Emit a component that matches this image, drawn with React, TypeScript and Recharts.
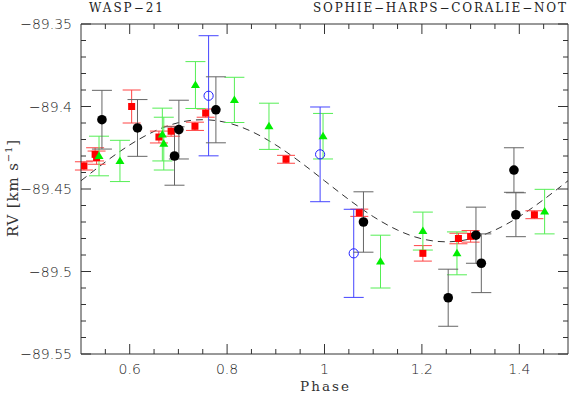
import React from "react";
import { ComposedChart, Scatter, Line, XAxis, YAxis, ErrorBar } from "recharts";

// WASP-21 radial velocities folded on phase (rv in km/s, err = 1 sigma)
const SOPHIE = [
  { phase: 0.543, rv: -89.408, err: 0.0178 },
  { phase: 0.616, rv: -89.413, err: 0.0172 },
  { phase: 0.692, rv: -89.43, err: 0.0177 },
  { phase: 0.701, rv: -89.414, err: 0.0178 },
  { phase: 0.777, rv: -89.402, err: 0.02 },
  { phase: 1.08, rv: -89.47, err: 0.0183 },
  { phase: 1.254, rv: -89.5159, err: 0.0173 },
  { phase: 1.311, rv: -89.478, err: 0.017 },
  { phase: 1.322, rv: -89.495, err: 0.0178 },
  { phase: 1.389, rv: -89.4385, err: 0.0135 },
  { phase: 1.393, rv: -89.4656, err: 0.0133 },
];

const HARPS = [
  { phase: 0.506, rv: -89.436, err: 0.0025 },
  { phase: 0.529, rv: -89.429, err: 0.004 },
  { phase: 0.532, rv: -89.431, err: 0.004 },
  { phase: 0.604, rv: -89.4, err: 0.01 },
  { phase: 0.66, rv: -89.4185, err: 0.0036 },
  { phase: 0.685, rv: -89.415, err: 0.003 },
  { phase: 0.734, rv: -89.412, err: 0.0025 },
  { phase: 0.756, rv: -89.404, err: 0.0025 },
  { phase: 0.921, rv: -89.432, err: 0.0024 },
  { phase: 1.0714, rv: -89.4644, err: 0.0022 },
  { phase: 1.202, rv: -89.489, err: 0.0047 },
  { phase: 1.275, rv: -89.48, err: 0.0032 },
  { phase: 1.3, rv: -89.4787, err: 0.0035 },
  { phase: 1.431, rv: -89.4656, err: 0.0024 },
];

const CORALIE = [
  { phase: 0.537, rv: -89.43, err: 0.012 },
  { phase: 0.58, rv: -89.433, err: 0.0125 },
  { phase: 0.667, rv: -89.417, err: 0.016 },
  { phase: 0.67, rv: -89.4225, err: 0.016 },
  { phase: 0.735, rv: -89.387, err: 0.0142 },
  { phase: 0.815, rv: -89.396, err: 0.0137 },
  { phase: 0.886, rv: -89.412, err: 0.014 },
  { phase: 0.997, rv: -89.418, err: 0.0138 },
  { phase: 1.115, rv: -89.494, err: 0.016 },
  { phase: 1.202, rv: -89.4755, err: 0.0115 },
  { phase: 1.272, rv: -89.489, err: 0.013 },
  { phase: 1.452, rv: -89.4637, err: 0.0135 },
];

const NOT = [
  { phase: 0.762, rv: -89.3935, err: 0.0364 },
  { phase: 0.991, rv: -89.429, err: 0.0287 },
  { phase: 1.06, rv: -89.489, err: 0.0267 },
];

// orbit model
const MODEL_PHASE = [0.5, 0.55, 0.6, 0.65, 0.7, 0.75, 0.8, 0.85, 0.9, 0.95, 1.0, 1.05, 1.1, 1.15, 1.2, 1.25, 1.3, 1.35, 1.4, 1.45, 1.5];
const MODEL_RV = [
  -89.445, -89.4336, -89.4233, -89.4151, -89.4098, -89.408, -89.4098, -89.4151, -89.4233, -89.4336, -89.445,
  -89.4564, -89.4667, -89.4749, -89.4802, -89.482, -89.4802, -89.4749, -89.4667, -89.4564, -89.445,
];
const MODEL = MODEL_PHASE.map((phase, i) => ({ phase, rv: MODEL_RV[i] }));

const X_TICKS = [0.55, 0.6, 0.65, 0.7, 0.75, 0.8, 0.85, 0.9, 0.95, 1.0, 1.05, 1.1, 1.15, 1.2, 1.25, 1.3, 1.35, 1.4, 1.45];
const X_MAJOR = [0.6, 0.8, 1.0, 1.2, 1.4];
const X_LABELS = ["0.6", "0.8", "1", "1.2", "1.4"];
const Y_TICKS = [
  -89.55, -89.54, -89.53, -89.52, -89.51, -89.5, -89.49, -89.48, -89.47, -89.46, -89.45,
  -89.44, -89.43, -89.42, -89.41, -89.4, -89.39, -89.38, -89.37, -89.36, -89.35,
];
const Y_MAJOR = [-89.55, -89.5, -89.45, -89.4, -89.35];
const Y_LABELS = ["\u221289.55", "\u221289.5", "\u221289.45", "\u221289.4", "\u221289.35"];

const AXIS = "#333";
const TXT = "#222";
const TICK_FONT = "DejaVu Sans";
const SERIF = "DejaVu Serif";

const majorIdx = (arr: number[], v: number) => arr.findIndex((a) => Math.abs(a - v) < 1e-6);

// tickSize/tickMargin are 0, so each tick's x,y sits on the axis line
function BottomTick(p: any) {
  const i = majorIdx(X_MAJOR, p.payload.value);
  return (
    <g>
      <line x1={p.x} x2={p.x} y1={p.y} y2={p.y - (i >= 0 ? 10 : 5)} stroke={AXIS} />
      {i >= 0 && (
        <text x={p.x} y={p.y + 20} textAnchor="middle" fontSize={14} fontFamily={TICK_FONT} fontWeight={300} fill={TXT}>
          {X_LABELS[i]}
        </text>
      )}
    </g>
  );
}

function TopTick(p: any) {
  const i = majorIdx(X_MAJOR, p.payload.value);
  return <line x1={p.x} x2={p.x} y1={p.y} y2={p.y + (i >= 0 ? 10 : 5)} stroke={AXIS} />;
}

function LeftTick(p: any) {
  const i = majorIdx(Y_MAJOR, p.payload.value);
  return (
    <g>
      <line x1={p.x} x2={p.x + (i >= 0 ? 10 : 5)} y1={p.y} y2={p.y} stroke={AXIS} />
      {i >= 0 && (
        <text x={p.x - 9} y={p.y + 5} textAnchor="end" fontSize={14} fontFamily={TICK_FONT} fontWeight={300} fill={TXT}>
          {Y_LABELS[i]}
        </text>
      )}
    </g>
  );
}

function RightTick(p: any) {
  const i = majorIdx(Y_MAJOR, p.payload.value);
  return <line x1={p.x} x2={p.x - (i >= 0 ? 10 : 5)} y1={p.y} y2={p.y} stroke={AXIS} />;
}

const BlackDot = (p: any) => <circle cx={p.cx} cy={p.cy} r={4.8} fill="#000" />;
const RedSquare = (p: any) => <rect x={p.cx - 3.5} y={p.cy - 3.5} width={7} height={7} fill="#ff0000" />;
const GreenTri = (p: any) => (
  <polygon points={`${p.cx},${p.cy - 4.5} ${p.cx + 4.5},${p.cy + 3} ${p.cx - 4.5},${p.cy + 3}`} fill="#00ee00" />
);
const BlueRing = (p: any) => <circle cx={p.cx} cy={p.cy} r={4.6} fill="none" stroke="#2222ff" strokeWidth={1} />;

export default function App() {
  return (
    <div style={{ position: "absolute", left: 0, top: 0, width: 569, height: 394, background: "#fff" }}>
      <ComposedChart width={569} height={394} margin={{ top: 23, right: 0, bottom: 39, left: 80 }}>
        <XAxis
          xAxisId="bottom"
          dataKey="phase"
          type="number"
          domain={[0.5, 1.5]}
          allowDataOverflow
          ticks={X_TICKS}
          interval={0}
          height={1}
          tickSize={0}
          tickMargin={0}
          tick={BottomTick}
          axisLine={{ stroke: AXIS }}
        />
        <XAxis
          xAxisId="top"
          orientation="top"
          dataKey="phase"
          type="number"
          domain={[0.5, 1.5]}
          allowDataOverflow
          ticks={X_TICKS}
          interval={0}
          height={1}
          tickSize={0}
          tickMargin={0}
          tick={TopTick}
          axisLine={{ stroke: AXIS }}
        />
        <YAxis
          yAxisId="left"
          dataKey="rv"
          type="number"
          domain={[-89.55, -89.35]}
          allowDataOverflow
          ticks={Y_TICKS}
          interval={0}
          width={1}
          tickSize={0}
          tickMargin={0}
          tick={LeftTick}
          axisLine={{ stroke: AXIS }}
        />
        <YAxis
          yAxisId="right"
          orientation="right"
          dataKey="rv"
          type="number"
          domain={[-89.55, -89.35]}
          allowDataOverflow
          ticks={Y_TICKS}
          interval={0}
          width={1}
          tickSize={0}
          tickMargin={0}
          tick={RightTick}
          axisLine={{ stroke: AXIS }}
        />
        <Line
          data={MODEL}
          xAxisId="top"
          yAxisId="right"
          dataKey="rv"
          type="natural"
          stroke="#333"
          strokeWidth={1}
          strokeDasharray="7 5"
          dot={false}
          activeDot={false}
          isAnimationActive={false}
        />
        <Scatter data={HARPS} xAxisId="bottom" yAxisId="left" shape={RedSquare} isAnimationActive={false}>
          <ErrorBar dataKey="err" direction="y" width={9} stroke="#ff4444" strokeWidth={1} isAnimationActive={false} />
        </Scatter>
        <Scatter data={CORALIE} xAxisId="bottom" yAxisId="left" shape={GreenTri} isAnimationActive={false}>
          <ErrorBar dataKey="err" direction="y" width={10} stroke="#55ee55" strokeWidth={1} isAnimationActive={false} />
        </Scatter>
        <Scatter data={NOT} xAxisId="bottom" yAxisId="left" shape={BlueRing} isAnimationActive={false}>
          <ErrorBar dataKey="err" direction="y" width={10} stroke="#4444ff" strokeWidth={1} isAnimationActive={false} />
        </Scatter>
        <Scatter data={SOPHIE} xAxisId="bottom" yAxisId="left" shape={BlackDot} isAnimationActive={false}>
          <ErrorBar dataKey="err" direction="y" width={10} stroke="#666" strokeWidth={1} isAnimationActive={false} />
        </Scatter>
      </ComposedChart>
      <svg width={569} height={394} style={{ position: "absolute", left: 0, top: 0, pointerEvents: "none" }}>
        <text x={89} y={11.5} fontSize={12} fontFamily={SERIF} fill={TXT} textLength={74} lengthAdjust="spacing">
          {"WASP\u221221"}
        </text>
        <text x={313} y={11.5} fontSize={12} fontFamily={SERIF} fill={TXT} textLength={253} lengthAdjust="spacing">
          {"SOPHIE\u2212HARPS\u2212CORALIE\u2212NOT"}
        </text>
        <text x={300} y={390.5} fontSize={13.5} fontFamily={SERIF} fill="#333" textLength={49} lengthAdjust="spacing">
          Phase
        </text>
        <text
          x={0}
          y={0}
          transform="translate(18,237) rotate(-90)"
          fontSize={15}
          fontFamily={SERIF}
          fill="#333"
          textLength={97}
          lengthAdjust="spacing"
        >
          <tspan>RV [km s</tspan>
          <tspan fontSize={10} dy={-6}>{"\u22121"}</tspan>
          <tspan dy={6}>]</tspan>
        </text>
      </svg>
    </div>
  );
}
